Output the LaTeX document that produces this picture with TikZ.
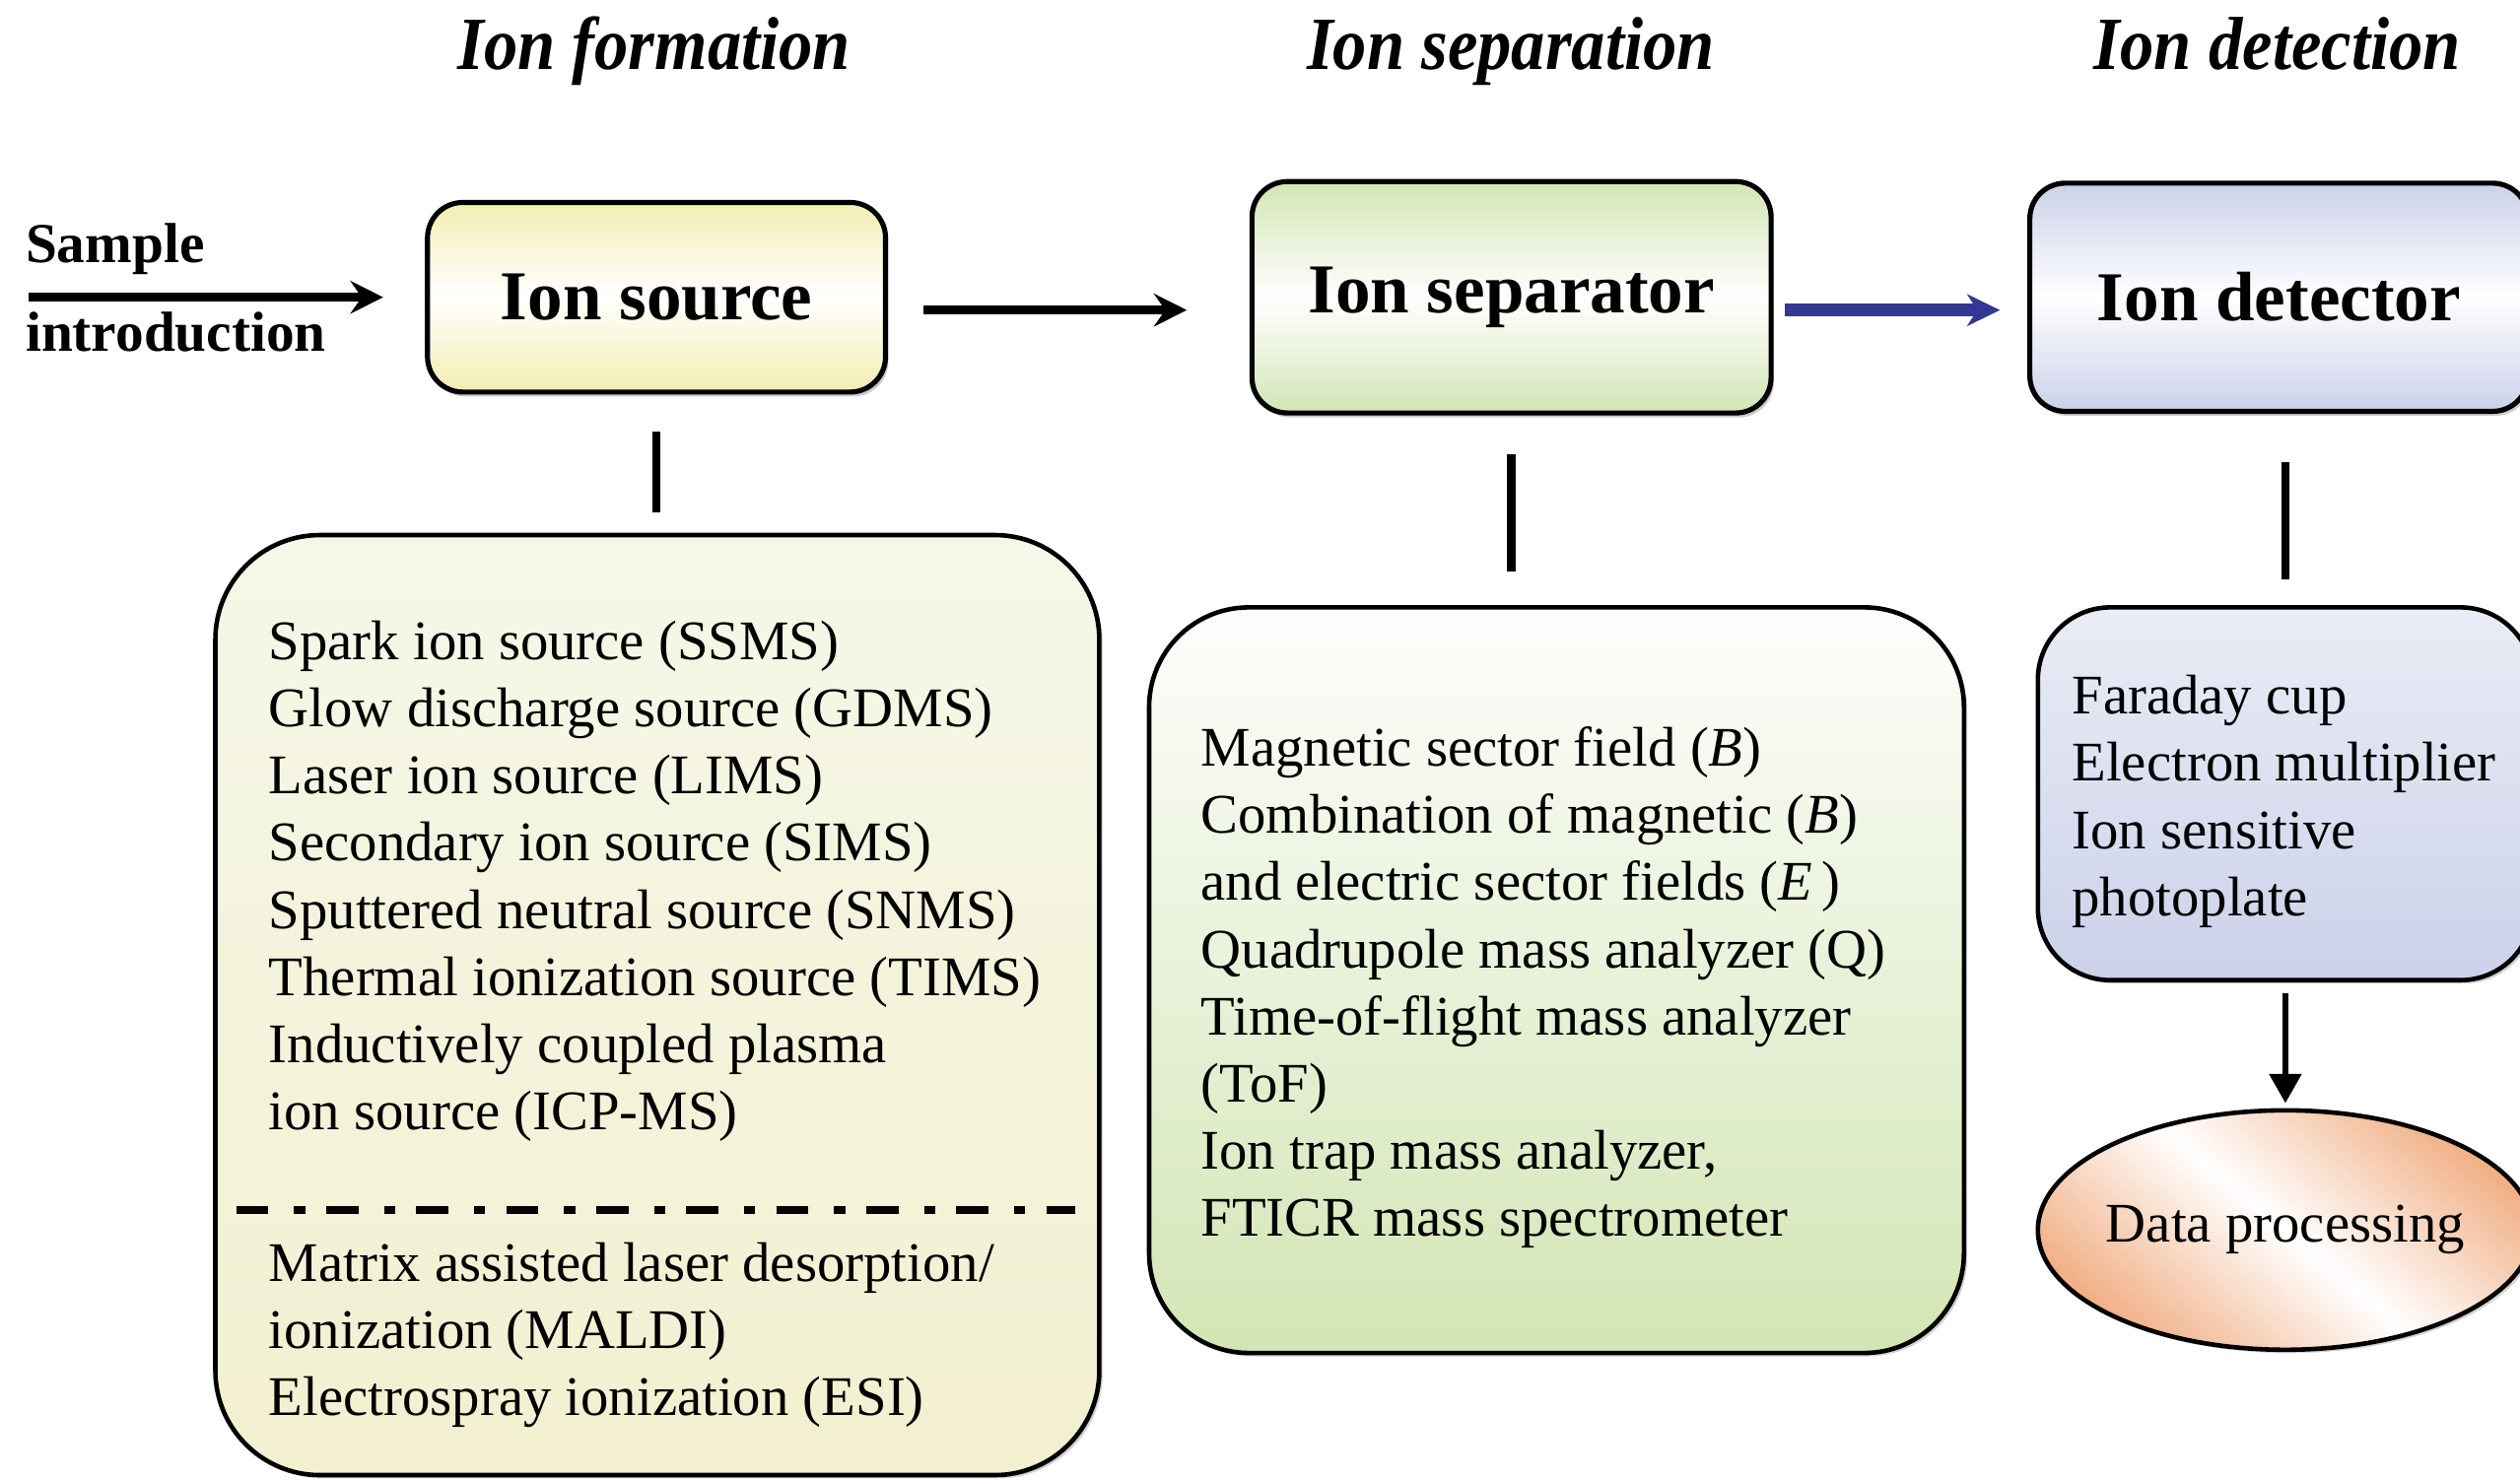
\documentclass[tikz,border=0pt]{standalone}
\usepackage{fontspec}
\setmainfont{Liberation Serif}
\newfontfamily\ttlfont[FakeStretch=0.9]{Liberation Serif}
\usetikzlibrary{shapes.geometric,arrows.meta,positioning,shadows}
\definecolor{srcyel}{RGB}{243,238,178}
\definecolor{sepgrn}{RGB}{211,229,180}
\definecolor{detblu}{RGB}{203,209,233}
\definecolor{lsttop}{RGB}{245,247,232}
\definecolor{lstbot}{RGB}{243,240,208}
\definecolor{dporg}{RGB}{241,176,134}
\definecolor{arrblu}{RGB}{52,56,148}
\tikzset{
title/.style = {anchor=base, inner sep=0pt, font=\ttlfont\fontsize{13.3}{15}\selectfont\bfseries\itshape},
block/.style = {draw, line width=0.9pt, rounded corners=0.22cm, top color=#1, bottom color=#1, middle color=white, font=\fontsize{12.4}{14}\selectfont\bfseries, drop shadow={shadow xshift=0.5pt, shadow yshift=-0.8pt, opacity=0.4}},
lst/.style = {draw, line width=0.8pt, drop shadow={shadow xshift=0.6pt, shadow yshift=-0.6pt, opacity=0.35}},
item/.style = {align=left, inner sep=0pt, font=\fontsize{9.9}{11.9}\selectfont},
lbl/.style = {anchor=base west, inner sep=0pt, font=\fontsize{10}{12}\selectfont\bfseries},
flow/.style = {->, line width=1.6pt},
link/.style = {line width=1.5pt}
}
\begin{document}
\begin{tikzpicture}[>={Stealth[length=5.8pt,width=5.8pt,inset=2pt]}]
\useasboundingbox (0,0) rectangle (15.68,9.21);
% stage titles
\node[title] (t1) at (4.07,8.78) {Ion formation};
\node[title] (t2) at (9.40,8.78) {Ion separation};
\node[title] (t3) at (14.17,8.78) {Ion detection};
% main chain
\node[block=srcyel, minimum width=2.85cm, minimum height=1.18cm] (b1) at (4.085,7.36) {Ion source};
\node[block=sepgrn, minimum width=3.23cm, minimum height=1.44cm] (b2) at (9.405,7.36) {Ion separator};
\node[block=detblu, minimum width=3.10cm, minimum height=1.42cm] (b3) at (14.18,7.36) {Ion detector};
\coordinate (in) at (0.18,7.36);
\node[lbl] (s1) at (0.153,7.575) {Sample};
\node[lbl] (s2) at (0.153,7.023) {introduction};
\draw[flow, shorten >=0.26cm] (in) -- (b1);
\draw[flow, shorten <=0.22cm, shorten >=0.39cm] ([yshift=-0.08cm]b1.east) -- ([yshift=-0.08cm]b2.west);
\draw[flow, arrblu, line width=2.2pt, >={Stealth[length=5.8pt,width=5.6pt,inset=1.8pt]}, shorten <=0.07cm, shorten >=0.17cm] ([yshift=-0.08cm]b2.east) -- ([yshift=-0.08cm]b3.west);
% lists under each stage
\node[lst, rounded corners=0.65cm, top color=lsttop, bottom color=lstbot, minimum width=5.50cm, minimum height=5.85cm] (l1) at (4.09,2.955) {};
\node[lst, rounded corners=0.62cm, top color=white!96!sepgrn, bottom color=sepgrn, minimum width=5.07cm, minimum height=4.64cm] (l2) at (9.685,3.11) {};
\node[lst, rounded corners=0.45cm, top color=white!60!detblu, bottom color=detblu, minimum width=3.08cm, minimum height=2.32cm] (l3) at (14.22,4.27) {};
\node[lst, ellipse, inner sep=0pt, top color=dporg, bottom color=dporg, middle color=white, shading angle=-40, minimum width=3.08cm, minimum height=1.49cm] (dp) at (14.22,1.555) {};
\node[font=\fontsize{9.9}{11.9}\selectfont] (dpt) at (dp) {Data processing};
\node[item, below right=0.54cm and 0.34cm of l1.north west] (i1) {Spark ion source (SSMS)\\Glow discharge source (GDMS)\\Laser ion source (LIMS)\\Secondary ion source (SIMS)\\Sputtered neutral source (SNMS)\\Thermal ionization source (TIMS)\\Inductively coupled plasma\\ion source (ICP-MS)};
\draw[line width=1.4pt, dash pattern=on 0.2cm off 0.16cm on 0.07cm off 0.13cm] (1.47,1.68) -- (6.69,1.68);
\node[item, below right=4.41cm and 0.34cm of l1.north west] (i2) {Matrix assisted laser desorption/\\ionization (MALDI)\\Electrospray ionization (ESI)};
\node[item, below right=0.75cm and 0.33cm of l2.north west] (i3) {Magnetic sector field (\textit{B})\\Combination of magnetic (\textit{B})\\and electric sector fields (\textit{E}\,)\\Quadrupole mass analyzer (Q)\\Time-of-flight mass analyzer\\(ToF)\\Ion trap mass analyzer,\\FTICR mass spectrometer};
\node[item, below right=0.43cm and 0.22cm of l3.north west] (i4) {Faraday cup\\Electron multiplier\\Ion sensitive\\photoplate};
% links
\draw[link, shorten <=0.23cm, shorten >=0.13cm] (b1.south) -- (b1.south |- l1.north);
\draw[link, shorten <=0.24cm, shorten >=0.21cm] (b2.south) -- (b2.south |- l2.north);
\draw[link, shorten <=0.30cm, shorten >=0.16cm] (l3.north |- b3.south) -- (l3.north);
\draw[->, line width=1.15pt, >={Triangle[length=5.2pt,width=5.5pt]}, shorten <=0.07cm, shorten >=0.03cm] (l3) -- (dp);
\end{tikzpicture}
\end{document}
